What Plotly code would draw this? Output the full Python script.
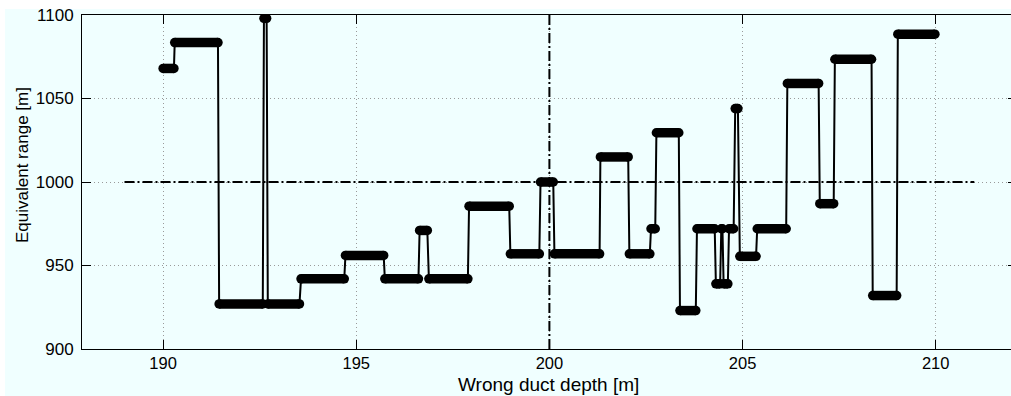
import plotly.graph_objects as go

# Plateaus of the step curve: start depth, end depth, equivalent range
seg_start = [190.00, 190.30, 191.45, 192.61, 192.71, 193.57, 194.72, 195.74, 196.64, 196.88,
             197.92, 198.99, 199.77, 200.13, 201.32, 202.07, 202.63, 202.77, 203.38, 203.82,
             204.31, 204.45, 204.51, 204.65, 204.81, 204.93, 205.38, 206.16, 207.00, 207.39,
             208.37, 209.02]
seg_end = [190.28, 191.42, 192.58, 192.68, 193.53, 194.69, 195.71, 196.61, 196.84, 197.89,
           198.96, 199.74, 200.10, 201.30, 202.04, 202.60, 202.74, 203.35, 203.79, 204.28,
           204.42, 204.48, 204.62, 204.77, 204.88, 205.35, 206.13, 206.97, 207.36, 208.34,
           208.99, 209.98]
seg_level = [1068, 1083.5, 927, 1098, 927, 942, 956, 942, 971, 942,
             985.5, 957, 1000, 957, 1015, 957, 972, 1029.5, 923, 972,
             939, 972, 939, 972, 1044, 955.5, 972, 1059, 987, 1073.5,
             932, 1088.5]

# Reference lines
ref_h_x = [189, 211]
ref_h_y = [1000, 1000]
ref_v_x = [200, 200]
ref_v_y = [900, 1100]

x_ticks = [190, 195, 200, 205, 210]
y_ticks = [900, 950, 1000, 1050, 1100]

BG = "#F0FFFF"
FONT = "Liberation Sans, Arial, sans-serif"

W, H = 1011, 396
ML, MR, MT, MB = 82, 0, 15, 47
PW, PH = W - ML - MR, H - MT - MB


def px_x(px):
    return (px - ML) / PW


def px_y(py):
    return (H - MB - py) / PH


# thin connecting path
path_x, path_y = [], []
for s, e, v in zip(seg_start, seg_end, seg_level):
    path_x += [s, e]
    path_y += [v, v]

# thick plateaus
bar_x, bar_y = [], []
for s, e, v in zip(seg_start, seg_end, seg_level):
    bar_x += [s, e, None]
    bar_y += [v, v, None]

fig = go.Figure()
dash = "10px,3px,2px,3px"
fig.add_trace(go.Scatter(x=ref_h_x, y=ref_h_y, mode="lines",
                         line=dict(color="black", width=2, dash=dash),
                         showlegend=False, hoverinfo="skip"))
fig.add_trace(go.Scatter(x=ref_v_x, y=ref_v_y, mode="lines",
                         line=dict(color="black", width=2, dash=dash),
                         showlegend=False, hoverinfo="skip"))
fig.add_trace(go.Scatter(x=path_x, y=path_y, mode="lines",
                         line=dict(color="black", width=2),
                         showlegend=False))
fig.add_trace(go.Scatter(x=bar_x, y=bar_y, mode="lines+markers",
                         line=dict(color="black", width=9.5),
                         marker=dict(color="black", size=9.5, symbol="circle"),
                         connectgaps=False, showlegend=False))
# invisible trace to activate the right-hand tick axis
fig.add_trace(go.Scatter(x=[], y=[], yaxis="y2", showlegend=False))

grid = dict(showgrid=True, gridcolor="#9a9a9a", gridwidth=1, griddash="1px,3px",
            zeroline=False)
fig.update_layout(
    xaxis=dict(range=[187.9, 211.95], tickvals=x_ticks,
               ticktext=[str(t) for t in x_ticks],
               ticks="inside", ticklen=9, tickwidth=1, tickcolor="black",
               showline=True, linecolor="black", linewidth=1, mirror="ticks",
               tickfont=dict(family=FONT, size=16.5, color="black"),
               ticklabelstandoff=-1, **grid),
    yaxis=dict(range=[900, 1100], tickvals=y_ticks,
               ticktext=[str(t) for t in y_ticks],
               ticks="inside", ticklen=9, tickwidth=1, tickcolor="black",
               showline=True, linecolor="black", linewidth=1, mirror=False,
               tickfont=dict(family=FONT, size=17, color="black"),
               ticklabelstandoff=4, **grid),
    yaxis2=dict(range=[900, 1100], tickvals=y_ticks, overlaying="y", side="right",
                ticks="inside", ticklen=3, tickwidth=1, tickcolor="black",
                showline=False, showticklabels=False, showgrid=False, zeroline=False),
)

fig.add_annotation(text="Equivalent range [m]", xref="paper", yref="paper",
                   x=px_x(22), y=px_y(165), xanchor="center", yanchor="middle",
                   textangle=-90, showarrow=False,
                   font=dict(family=FONT, size=17, color="black"))
fig.add_annotation(text="Wrong duct depth [m]", xref="paper", yref="paper",
                   x=px_x(548.5), y=px_y(396), xanchor="center", yanchor="bottom",
                   showarrow=False, borderpad=0,
                   font=dict(family=FONT, size=19, color="black"))

# white strips at the top and left edge of the picture
fig.add_shape(type="rect", xref="paper", yref="paper", layer="below",
              x0=px_x(0), x1=px_x(W), y0=px_y(9), y1=px_y(-2),
              fillcolor="white", line=dict(width=0))
fig.add_shape(type="rect", xref="paper", yref="paper", layer="below",
              x0=px_x(-2), x1=px_x(5), y0=px_y(H + 2), y1=px_y(-2),
              fillcolor="white", line=dict(width=0))

fig.update_layout(width=W, height=H,
                  margin=dict(l=ML, r=MR, t=MT, b=MB),
                  paper_bgcolor=BG, plot_bgcolor=BG)

post = ("document.body.style.margin='0';document.body.style.overflow='hidden';"
        "var gd=document.getElementById('{plot_id}');"
        "gd.style.width='1011px';gd.style.height='396px';"
        "Plotly.relayout(gd,{width:1011,height:396});")
fig.write_html("out.html", post_script=post,
               config={"responsive": False, "displayModeBar": False})
